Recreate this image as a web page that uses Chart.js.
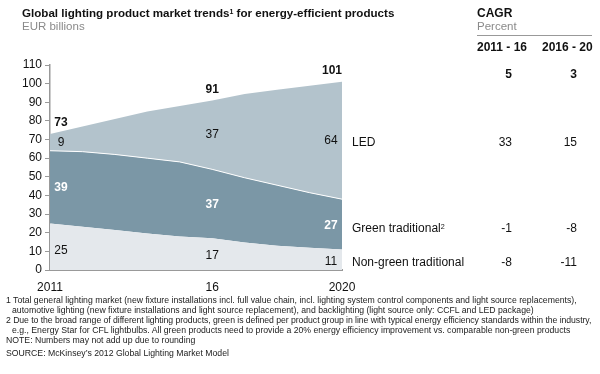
<!DOCTYPE html>
<html>
<head>
<meta charset="utf-8">
<script src="https://cdn.jsdelivr.net/npm/chart.js@4/dist/chart.umd.min.js"></script>
<style>
  html, body { margin: 0; padding: 0; background: #fff; }
  body { width: 600px; height: 374px; position: relative; overflow: hidden;
         font-family: "Liberation Sans", Arial, Helvetica, sans-serif; color: #111; }
  #wrap { position: absolute; left: 0; top: 0; width: 600px; height: 374px; }
  .t { position: absolute; white-space: nowrap; line-height: 1; }
  .title { left: 22px; top: 7px; font-size: 11.6px; font-weight: bold; }
  .sub { color: #8a8a8a; font-size: 11.5px; }
  .cagr { left: 477px; top: 7px; font-size: 12px; font-weight: bold; }
  .rule { position: absolute; left: 477px; top: 35px; width: 115px; height: 0; border-top: 1px solid #999; }
  .hdr { font-size: 12px; font-weight: bold; top: 41px; }
  .ser { left: 352px; font-size: 12px; }
  .val { font-size: 12px; text-align: right; width: 40px; }
  .fn { font-size: 8.7px; color: #222; left: 6px; }
  sup { font-size: 0.6em; vertical-align: 0; position: relative; top: -0.45em; }
</style>
</head>
<body>
<div id="wrap"><canvas id="c" width="600" height="374"></canvas></div>

<div class="t title">Global lighting product market trends<sup>1</sup> for energy-efficient products</div>
<div class="t sub" style="left:22px;top:21px;">EUR billions</div>

<div class="t cagr">CAGR</div>
<div class="t sub" style="left:477px;top:21px;">Percent</div>
<div class="rule"></div>
<div class="t hdr" style="left:477px;">2011 - 16</div>
<div class="t hdr" style="left:542px;">2016 - 20</div>

<div id="table"></div>

<div class="t fn" style="top:296px;">1 Total general lighting market (new fixture installations incl. full value chain, incl. lighting system control components and light source replacements),</div>
<div class="t fn" style="top:306px;left:12px;">automotive lighting (new fixture installations and light source replacement), and backlighting (light source only: CCFL and LED package)</div>
<div class="t fn" style="top:316px;letter-spacing:-0.06px;">2 Due to the broad range of different lighting products, green is defined per product group in line with typical energy efficiency standards within the industry,</div>
<div class="t fn" style="top:326px;left:12px;">e.g., Energy Star for CFL lightbulbs. All green products need to provide a 20% energy efficiency improvement vs. comparable non-green products</div>
<div class="t fn" style="top:336px;">NOTE: Numbers may not add up due to rounding</div>
<div class="t fn" style="top:349px;">SOURCE: McKinsey’s 2012 Global Lighting Market Model</div>

<script>
// ---- Data ----
const years = [2011, 2012, 2013, 2014, 2015, 2016, 2017, 2018, 2019, 2020];
const nonGreen = [25, 23.2, 21.4, 19.6, 18, 17, 14.8, 13, 12, 11];
const greenTrad = [39, 40.3, 40.6, 40.4, 40, 37, 34.7, 32.5, 29.5, 27];
const led = [9, 13.5, 19, 25, 30, 37, 45, 51.2, 57.3, 63];

const labelYears = [2011, 2016, 2020];
const tickLabels = ["2011", "16", "2020"];
const totalLabels = [73, 91, 101];
const ledLabels = [9, 37, 64];
const greenLabels = [39, 37, 27];
const nonGreenLabels = [25, 17, 11];

const seriesNames = ["LED", "Green traditional", "Non-green traditional"];
const cagrPeriods = ["2011 - 16", "2016 - 20"];
const cagrTotal = [5, 3];
const cagrLed = [33, 15];
const cagrGreen = [-1, -8];
const cagrNonGreen = [-8, -11];

// ---- Table (text) ----
const table = document.getElementById('table');
function addText(txt, cls, left, top, extra) {
  const d = document.createElement('div');
  d.className = 't ' + cls;
  d.style.left = left + 'px';
  d.style.top = top + 'px';
  if (extra) Object.assign(d.style, extra);
  d.innerHTML = txt;
  table.appendChild(d);
}
const rowTops = { total: 68, led: 136, green: 222, non: 256 };
addText(seriesNames[0], 'ser', 352, rowTops.led);
addText(seriesNames[1] + '<sup>2</sup>', 'ser', 352, rowTops.green);
addText(seriesNames[2], 'ser', 352, rowTops.non);
[[cagrTotal, rowTops.total, true], [cagrLed, rowTops.led], [cagrGreen, rowTops.green], [cagrNonGreen, rowTops.non]].forEach(([arr, top, bold]) => {
  addText(String(arr[0]), 'val', 472, top, bold ? { fontWeight: 'bold' } : null);
  addText(String(arr[1]), 'val', 537, top, bold ? { fontWeight: 'bold' } : null);
});

// ---- Chart ----
Chart.defaults.font.family = '"Liberation Sans", Arial, Helvetica, sans-serif';
Chart.defaults.color = '#111';

const pts = arr => arr.map((v, i) => ({ x: years[i], y: v }));

const labelPlugin = {
  id: 'segLabels',
  afterDatasetsDraw(chart) {
    const { ctx, scales: { x, y } } = chart;
    ctx.save();
    labelYears.forEach((yr, k) => {
      const i = years.indexOf(yr);
      const a = nonGreen[i], b = a + greenTrad[i], c = b + led[i];
      const px = x.getPixelForValue(yr);
      let tx;
      if (k === 0) tx = px + 11;
      else if (k === labelYears.length - 1) tx = px - 11;
      else tx = px;
      ctx.textAlign = 'center';
      ctx.textBaseline = 'middle';
      const draw = (txt, val, color, bold, dy, dx) => {
        ctx.font = (bold ? 'bold ' : '') + '12px "Liberation Sans", Arial, sans-serif';
        ctx.fillStyle = color;
        ctx.fillText(String(txt), tx + (dx || 0), y.getPixelForValue(val) + (dy || 0));
      };
      draw(nonGreenLabels[k], a / 2, '#111', false, k === 0 ? 4 : 2);
      draw(greenLabels[k], (a + b) / 2, '#fff', true, 1);
      draw(ledLabels[k], (b + c) / 2, '#111', false, 0);
      draw(totalLabels[k], c, '#111', true, -11, k === labelYears.length - 1 ? 1 : 0);
    });
    ctx.restore();
  }
};

new Chart(document.getElementById('c'), {
  type: 'line',
  data: {
    datasets: [
      { label: seriesNames[2], data: pts(nonGreen), fill: 'origin', backgroundColor: '#e4e8ec', borderWidth: 0, pointRadius: 0 },
      { label: seriesNames[1], data: pts(greenTrad), fill: '-1', backgroundColor: '#7b97a6', borderColor: '#ffffff', borderWidth: 1, pointRadius: 0 },
      { label: seriesNames[0], data: pts(led), fill: '-1', backgroundColor: '#b3c3cc', borderWidth: 0, pointRadius: 0 }
    ]
  },
  options: {
    responsive: false,
    animation: false,
    events: [],
    layout: { padding: { left: 0, right: 258, top: 65, bottom: 0 } },
    plugins: { legend: { display: false }, tooltip: { enabled: false } },
    elements: { line: { tension: 0 } },
    scales: {
      x: {
        type: 'linear', min: 2011, max: 2020,
        afterBuildTicks: s => { s.ticks = labelYears.map(v => ({ value: v })); },
        afterFit: s => { s.height = 104; },
        ticks: { callback: (v) => tickLabels[labelYears.indexOf(v)], padding: 10, font: { size: 12 }, color: '#111', maxRotation: 0 },
        grid: { display: false, drawTicks: false },
        border: { display: true, color: '#999', width: 2 }
      },
      y: {
        stacked: true, min: 0, max: 110,
        afterFit: s => { s.width = 50; },
        ticks: { stepSize: 10, padding: 3, font: { size: 12 }, color: '#111' },
        grid: { display: true, drawOnChartArea: false, drawTicks: true, tickLength: 5, color: '#999' },
        border: { display: true, color: '#999', width: 1.5 }
      }
    }
  },
  plugins: [labelPlugin]
});
</script>
</body>
</html>
